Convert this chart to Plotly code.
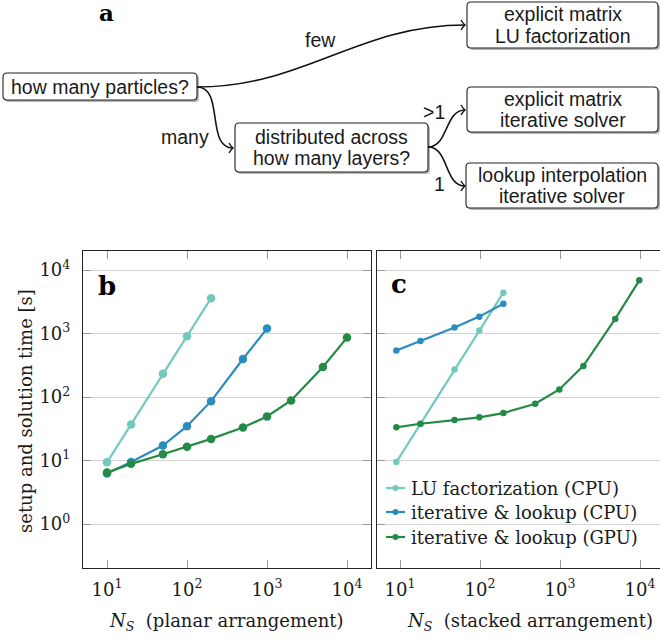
import plotly.graph_objects as go

# ---- timing data, panel b (planar arrangement) ----
ns_planar_lu = [10, 20, 50, 100, 200]
t_planar_lu = [9.4, 37, 233, 907, 3610]
ns_planar_cpu = [10, 20, 50, 100, 200, 500, 1000]
t_planar_cpu = [6.3, 9.5, 17.3, 34.8, 86.4, 398, 1200]
ns_planar_gpu = [10, 20, 50, 100, 200, 500, 1000, 2000, 5000, 10000]
t_planar_gpu = [6.5, 8.9, 12.6, 16.6, 22, 33.2, 49.5, 88.6, 298, 865]

# ---- timing data, panel c (stacked arrangement) ----
ns_stacked_lu = [9, 18, 48, 98, 196]
t_stacked_lu = [9.5, 37.7, 272, 1114, 4400]
ns_stacked_cpu = [9, 18, 48, 98, 196]
t_stacked_cpu = [541, 767, 1243, 1849, 2958]
ns_stacked_gpu = [9, 18, 48, 98, 196, 490, 980, 1960, 4900, 9800]
t_stacked_gpu = [33.4, 38.1, 43.5, 48, 56.1, 78.6, 132, 310, 1700, 6890]

series_names = ["LU factorization (CPU)", "iterative & lookup (CPU)", "iterative & lookup (GPU)"]
series_colors = ["#74c9bd", "#2b8cbe", "#238b45"]

x_tick_vals = [10, 100, 1000, 10000]
x_tick_text = ["10<sup>1</sup>", "10<sup>2</sup>", "10<sup>3</sup>", "10<sup>4</sup>"]
y_tick_vals = [1, 10, 100, 1000, 10000]
y_tick_text = ["10<sup>0</sup>", "10<sup>1</sup>", "10<sup>2</sup>", "10<sup>3</sup>", "10<sup>4</sup>"]

W, H = 660, 639
SERIF = "DejaVu Serif"
SANS = "Liberation Sans"
INK = "#1a1a1a"
SERIF_SIZE = 18


def px(x):
    return x / W


def py(y):
    return 1 - y / H


def pt(x, y):
    return f"{px(x):.5f},{py(y):.5f}"


def label(x, y, text, font, xanchor="center", **kw):
    return dict(x=px(x), y=py(y), xref="paper", yref="paper", text=text,
                showarrow=False, xanchor=xanchor, yanchor="middle", font=font, **kw)


fig = go.Figure()

# ---- line plots ----
panel_b = [(ns_planar_lu, t_planar_lu), (ns_planar_cpu, t_planar_cpu), (ns_planar_gpu, t_planar_gpu)]
panel_c = [(ns_stacked_lu, t_stacked_lu), (ns_stacked_cpu, t_stacked_cpu), (ns_stacked_gpu, t_stacked_gpu)]

for (xs, ys), name, col in zip(panel_b, series_names, series_colors):
    fig.add_trace(go.Scatter(x=xs, y=ys, mode="lines+markers", name=name,
                             line=dict(color=col, width=2.2),
                             marker=dict(color=col, size=8.5),
                             xaxis="x", yaxis="y", showlegend=False))
for (xs, ys), name, col in zip(panel_c, series_names, series_colors):
    fig.add_trace(go.Scatter(x=xs, y=ys, mode="lines+markers", name=name,
                             line=dict(color=col, width=2.2),
                             marker=dict(color=col, size=6.5),
                             xaxis="x2", yaxis="y2", showlegend=False))

tick_font = dict(family=SERIF, size=SERIF_SIZE, color=INK)
common_x = dict(type="log", tickvals=x_tick_vals, ticktext=x_tick_text, tickfont=tick_font,
                showgrid=False, zeroline=False, showline=True, linecolor="#222", linewidth=1.2,
                ticks="inside", ticklen=8, tickcolor="#999", tickwidth=1.2,
                ticklabelstandoff=5, automargin=False, mirror="ticks")
common_y = dict(type="log", range=[-0.69, 4.3], tickvals=y_tick_vals, ticktext=y_tick_text,
                tickfont=tick_font, showgrid=True, gridcolor="#d4d4d4", gridwidth=1.2,
                zeroline=False, showline=True, linecolor="#222", linewidth=1.2,
                ticks="inside", ticklen=8, tickcolor="#999", tickwidth=1.2,
                ticklabelstandoff=8, automargin=False)

ydom = [py(568), py(251)]
fig.update_layout(
    xaxis=dict(common_x, domain=[px(83), px(371)], range=[0.7, 4.3], anchor="y"),
    yaxis=dict(common_y, domain=ydom, anchor="x", mirror="ticks"),
    xaxis2=dict(common_x, domain=[px(377), 1.0], range=[0.7125, 4.25], anchor="y2"),
    yaxis2=dict(common_y, domain=ydom, anchor="x2", showticklabels=False, mirror=False),
)

shapes = []
ann = []
serif_font = dict(family=SERIF, size=SERIF_SIZE, color=INK)

# ---- legend inside panel c ----
legend_rows = [488, 512, 537]
for name, col, yy in zip(series_names, series_colors, legend_rows):
    shapes.append(dict(type="line", xref="paper", yref="paper",
                       x0=px(386), x1=px(405), y0=py(yy), y1=py(yy),
                       line=dict(color=col, width=2.2), layer="above"))
    shapes.append(dict(type="circle", xref="paper", yref="paper",
                       x0=px(392.5), x1=px(398.5), y0=py(yy + 3), y1=py(yy - 3),
                       fillcolor=col, line=dict(width=0), layer="above"))
    ann.append(label(409, yy, name, serif_font, xanchor="left"))

# ---- axis titles and panel letters ----
ann.append(label(25, 411, "setup and solution time [s]", serif_font, textangle=-90))
ann.append(label(226, 622, "<i>N<sub>S</sub></i>  (planar arrangement)", serif_font))
ann.append(label(530, 622, "<i>N<sub>S</sub></i>  (stacked arrangement)", serif_font))
for letter, (lx, ly) in zip(["b", "c"], [(107, 286), (399, 284)]):
    ann.append(label(lx, ly, f"<b>{letter}</b>", dict(family=SERIF, size=26, color="#000")))
ann.append(label(106, 13, "<b>a</b>", dict(family=SERIF, size=23, color="#000")))


# ---- decision flowchart ----
def rrect_path(x0, y0, x1, y1, r=4):
    return ("M " + pt(x0 + r, y0) + " L " + pt(x1 - r, y0) +
            " Q " + pt(x1, y0) + " " + pt(x1, y0 + r) +
            " L " + pt(x1, y1 - r) + " Q " + pt(x1, y1) + " " + pt(x1 - r, y1) +
            " L " + pt(x0 + r, y1) + " Q " + pt(x0, y1) + " " + pt(x0, y1 - r) +
            " L " + pt(x0, y0 + r) + " Q " + pt(x0, y0) + " " + pt(x0 + r, y0) + " Z")


sans_font = dict(family=SANS, size=19.5, color=INK)
boxes = [
    ((3, 73, 197, 100), ["how many particles?"]),
    ((235, 123, 428, 172), ["distributed across", "how many layers?"]),
    ((467, 2, 658, 48), ["explicit matrix", "LU factorization"]),
    ((467, 87, 658, 132), ["explicit matrix", "iterative solver"]),
    ((466, 163, 658, 208), ["lookup interpolation", "iterative solver"]),
]
for (x0, y0, x1, y1), lines in boxes:
    shapes.append(dict(type="path", xref="paper", yref="paper",
                       path=rrect_path(x0 + 2, y0 + 2, x1 + 2, y1 + 2),
                       fillcolor="rgba(120,120,120,0.55)", line=dict(width=0)))
    shapes.append(dict(type="path", xref="paper", yref="paper",
                       path=rrect_path(x0, y0, x1, y1),
                       fillcolor="white", line=dict(color="#222", width=1.1)))
    cx, cy = (x0 + x1) / 2, (y0 + y1) / 2
    n = len(lines)
    for i, txt in enumerate(lines):
        ann.append(label(cx, cy + (i - (n - 1) / 2) * 21, txt, sans_font))


def s_curve(p0, p3):
    (x0, y0), (x3, y3) = p0, p3
    d = ((x3 - x0) ** 2 + (y3 - y0) ** 2) ** 0.5 * 0.39
    path = ("M " + pt(x0, y0) + " C " + pt(x0 + d, y0) + " " + pt(x3 - d, y3) +
            " " + pt(x3, y3))
    head = ("M " + pt(x3 - 4, y3 - 5) + " Q " + pt(x3 - 1.5, y3 - 1) + " " + pt(x3, y3) +
            " Q " + pt(x3 - 1.5, y3 + 1) + " " + pt(x3 - 4, y3 + 5))
    return [dict(type="path", xref="paper", yref="paper", path=path,
                 line=dict(color="#111", width=1.6)),
            dict(type="path", xref="paper", yref="paper", path=head,
                 line=dict(color="#111", width=1.4))]


shapes += s_curve((197, 87), (465, 25))
shapes += s_curve((197, 87), (233, 148))
shapes += s_curve((428, 147), (465, 110))
shapes += s_curve((428, 147), (465, 186))

for txt, (tx, ty), anchor in [("few", (320, 40), "center"), ("many", (211, 137), "right"),
                              ("&gt;1", (447, 112), "right"), ("1", (447, 184), "right")]:
    ann.append(label(tx, ty, txt, sans_font, xanchor=anchor))

fig.update_layout(
    width=W, height=H,
    margin=dict(l=0, r=0, t=0, b=0),
    paper_bgcolor="white", plot_bgcolor="white",
    shapes=shapes, annotations=ann,
    showlegend=False, hovermode=False,
)

fig.write_html("out.html", config={"displayModeBar": False})
